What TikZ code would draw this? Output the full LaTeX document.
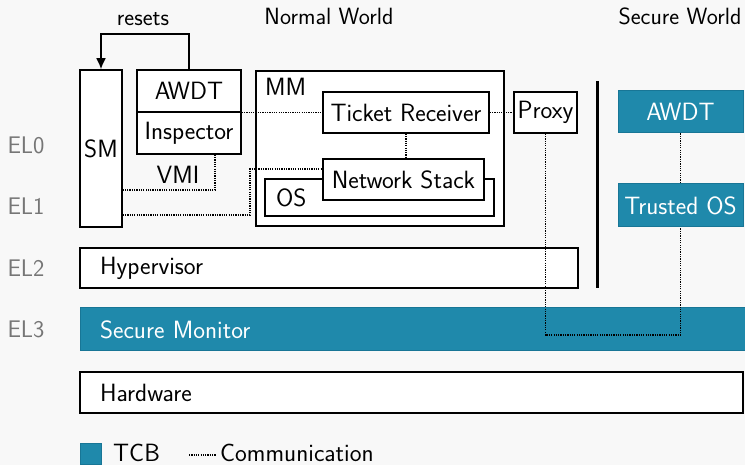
\documentclass[tikz,border=0pt]{standalone}
\usepackage{fontspec}
\usetikzlibrary{arrows.meta,calc}
\definecolor{bgcol}{RGB}{248,248,248}
\definecolor{tcb}{RGB}{31,137,171}
\definecolor{tcbedge}{RGB}{24,118,150}
\definecolor{elgray}{RGB}{118,118,118}
\tikzset{
  txt/.style={font=\sffamily\fontsize{25}{29}\selectfont},
  box/.style={txt, draw=black, line width=1.5pt, fill=white, inner sep=0pt},
  tcbbox/.style={txt, draw=tcbedge, line width=1pt, fill=tcb, text=white, inner sep=0pt},
  wide/.style={align=left, text width=#1-40pt, inner xsep=20pt, minimum width=#1},
  comm/.style={line width=1.2pt, dash pattern=on 1.2pt off 1.1pt},
  ellabel/.style={text=elgray, font=\sffamily\fontsize{24}{28}\selectfont},
  small/.style={font=\sffamily\fontsize{23.5}{27}\selectfont},
}
\begin{document}
\begin{tikzpicture}[x=1pt, y=-1pt]
  \fill[bgcol] (0,0) rectangle (745,465);
  \useasboundingbox (0,0) rectangle (745,465);

  % headers
  \node[small] (nw) at (329,16) {Normal World};
  \node[small] (sw) at (680,16) {Secure World};

  % exception levels
  \node[ellabel] (el0) at (26,145) {EL0};
  \node[ellabel] (el1) at (26,206) {EL1};
  \node[ellabel] (el2) at (26,268) {EL2};
  \node[ellabel] (el3) at (26,329) {EL3};

  % normal world components
  \node[box, minimum width=42pt, minimum height=157pt] (sm) at (101,148.5) {SM};
  \node[box, minimum width=104pt, minimum height=42pt] (awdt) at (189,91) {AWDT};
  \node[box, minimum width=104pt, minimum height=42pt] (insp) at (189,133) {Inspector};
  \node[box, minimum width=248pt, minimum height=155pt] (mm) at (380,148.5) {};
  \node[txt, anchor=west, inner xsep=0pt] (mmlabel) at (265,87) {MM};
  \node[box, minimum width=166pt, minimum height=41pt] (tr) at (406,112.5) {Ticket Receiver};
  \node[box, align=left, minimum width=229pt, inner xsep=11pt, text width=207pt, minimum height=37pt] (os) at (379.5,197.5) {OS};
  \node[box, minimum width=161pt, minimum height=41pt] (ns) at (403.5,179.5) {Network Stack};
  \node[box, minimum width=63pt, minimum height=41pt] (proxy) at (545.5,112.5) {Proxy};

  % world separator
  \draw[line width=3pt] (597,81) -- (597,288);

  % secure world components
  \node[tcbbox, minimum width=125pt, minimum height=42pt] (sawdt) at (680.5,112) {AWDT};
  \node[tcbbox, minimum width=125pt, minimum height=43pt] (tos) at (680.5,205.5) {Trusted OS};

  % lower layers
  \node[box, wide=498pt, minimum height=40pt] (hyp) at (329,268) {Hypervisor};
  \node[tcbbox, wide=665pt, minimum height=43pt] (smon) at (412.5,329.5) {Secure Monitor};
  \node[box, wide=663pt, minimum height=41pt] (hw) at (411.5,392.5) {Hardware};

  % resets arrow
  \coordinate (rtop) at (0,34);
  \draw[line width=1.8pt, -{Latex[length=11pt,width=10pt]}]
    (awdt.north) -- (awdt.north |- rtop) -- (sm.north |- rtop) -- (sm.north);
  \node[small] (resets) at (143,19) {resets};

  % communication paths
  \coordinate (vmi) at (215,190);
  \draw[comm] (insp.south -| vmi) -- (vmi) -- (sm.east |- vmi);
  \node[txt] (vmilabel) at (178,175) {VMI};
  \coordinate (low) at (250,215);
  \coordinate (nsin) at (323,169);
  \draw[comm] (sm.east |- low) -- (low) -- (low |- nsin) -- (nsin);
  \draw[comm] (awdt.south east) -- (awdt.south east -| tr.west);
  \draw[comm] (tr.east) -- (proxy.west);
  \draw[comm] (tr.south) -- (tr.south |- ns.north);
  \coordinate (route) at (0,335);
  \draw[comm] (proxy.south) -- (proxy.south |- route) -- (tos.south |- route) -- (tos.south);
  \draw[comm] (sawdt.south) -- (tos.north);

  % legend
  \node[tcbbox, minimum width=21pt, minimum height=21pt] (legtcb) at (90.5,454) {};
  \node[txt, anchor=west, inner xsep=0pt] (tcblabel) at (113,453) {TCB};
  \coordinate (lega) at (189,455);
  \coordinate (legb) at (216,455);
  \draw[comm] (lega) -- (legb);
  \node[txt, anchor=west, inner xsep=0pt] (commlabel) at (220,453) {Communication};
\end{tikzpicture}
\end{document}
